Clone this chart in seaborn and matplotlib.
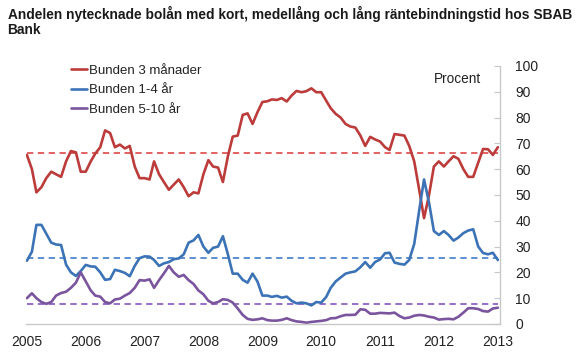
import numpy as np
import pandas as pd
import matplotlib
matplotlib.use("Agg")
import matplotlib.pyplot as plt
import matplotlib.dates as mdates
import seaborn as sns

TITLE = "Andelen nytecknade bolån med kort, medellång och lång räntebindningstid hos SBAB\nBank"
SERIES = ["Bunden 3 månader", "Bunden 1-4 år", "Bunden 5-10 år"]
COLORS = ["#BC3B3B", "#3C73B6", "#7A559E"]
AVG_COLORS = ["#E05656", "#4F86CC", "#8E63C4"]

# monthly, Jan 2005 - Jan 2013
bunden_3m = [65.5, 60, 51, 53, 56.5, 59, 58, 57, 63, 67, 66.5, 59,
             59, 63, 66, 68.5, 75, 74, 68.5, 69.5, 68, 69, 61, 56.5,
             56.5, 56, 63, 58, 55, 52, 54, 56, 53, 49.5, 51, 50.6,
             58, 63.5, 61, 60.6, 55, 65, 72.6, 73, 81, 81.6, 77.5, 82,
             86, 86.3, 87, 86.8, 87.5, 86.2, 88.5, 90.3, 89.8, 90.2, 91.3, 89.8,
             89.8, 86.5, 83.6, 81.4, 80, 77.5, 76.5, 76.1, 73, 69, 72.5, 71.5,
             70.7, 68.5, 67.4, 73.6, 73.3, 73, 69, 63, 52, 41, 50, 61,
             63, 61, 63, 65, 64, 60, 57, 57, 62.5, 67.8, 67.7, 65.5,
             68.5]
bunden_1_4 = [24.5, 28, 38.4, 38.4, 35, 31.5, 30.8, 30.6, 23, 20, 18.6, 20.5,
              22.9, 22.3, 22.2, 20, 17.1, 17.4, 21, 20.5, 19.8, 18.5, 22.5, 25.5,
              26.2, 26.1, 24.8, 22.5, 23.5, 24, 25.1, 25.4, 27, 31.5, 32.4, 34.5,
              30, 27.6, 29.5, 30, 34, 27, 19.5, 19.5, 17.1, 16, 19.5, 16.5,
              11, 11, 10.5, 10.9, 10.2, 10.6, 9, 8, 8.3, 8, 7.2, 8.5,
              8.3, 10.5, 14, 16.5, 18, 19.5, 20, 20.4, 22, 24, 21.8, 24,
              25, 27.4, 27.6, 23.8, 23.3, 23, 24.8, 31, 44, 56, 47, 36,
              34.5, 36, 34.5, 32.3, 33.5, 35.2, 36.2, 36.7, 30, 27.5, 27, 27.6,
              24.8]
bunden_5_10 = [10, 11.9, 10, 8.5, 7.8, 8.5, 11, 12, 12.5, 14, 16, 20,
               16.5, 13, 11, 10.6, 8.5, 8, 9.5, 9.8, 11, 12, 14, 17,
               16.8, 17.3, 14, 17, 19.6, 22.5, 20, 18.3, 19, 17, 15.5, 13,
               11.5, 9, 8, 8.5, 9.6, 9.3, 8.3, 6, 3.5, 2, 1.6, 1.8,
               2.2, 1.5, 1.3, 1.3, 1.6, 2.2, 1.5, 1, 0.8, 0.5, 0.8, 1,
               1.2, 1.5, 2.2, 2.3, 3, 3.5, 3.5, 3.6, 5.7, 5.5, 4, 4,
               4.3, 4.2, 4.1, 4.4, 3.1, 2.2, 2.5, 3.2, 3.5, 3.3, 2.8, 2.5,
               1.7, 1.9, 2, 1.8, 2.8, 4.4, 6.1, 6.1, 5.8, 5, 4.8, 6,
               6.3]
averages = [66.2, 25.6, 7.6]
yticks = [0, 10, 20, 30, 40, 50, 60, 70, 80, 90, 100]

dates = pd.date_range("2005-01-01", periods=len(bunden_3m), freq="MS")
df = pd.DataFrame({"date": dates, SERIES[0]: bunden_3m,
                   SERIES[1]: bunden_1_4, SERIES[2]: bunden_5_10})
long = df.melt(id_vars="date", var_name="serie", value_name="andel")

sns.set_style("white")
plt.rcParams["font.family"] = ["Liberation Sans", "DejaVu Sans"]

fig = plt.figure(figsize=(5.8, 3.62), dpi=100)
ax = fig.add_axes([0.045, 0.105, 0.817, 0.713])

for avg, c in zip(averages, AVG_COLORS):
    ax.hlines(avg, dates[0], dates[-1], colors=c, linestyles=(0, (3.5, 2.5)), lw=1.3)

sns.lineplot(data=long, x="date", y="andel", hue="serie", hue_order=SERIES,
             palette=COLORS, lw=1.9, ax=ax)

ax.set_ylim(0, 100)
ax.set_xlim(pd.Timestamp("2004-12-27"), pd.Timestamp("2013-01-14"))
ax.set_yticks(yticks)
ax.yaxis.tick_right()
ax.xaxis.set_major_locator(mdates.YearLocator())
ax.xaxis.set_major_formatter(mdates.DateFormatter("%Y"))
ax.set_xlabel(""); ax.set_ylabel("")
for s in ("top", "left"):
    ax.spines[s].set_visible(False)
for s in ("bottom", "right"):
    ax.spines[s].set_color("#C8C8C8")
    ax.spines[s].set_linewidth(1.0)
ax.tick_params(axis="both", direction="in", length=4, color="#C8C8C8",
               labelsize=10, labelcolor="#222222")
ax.tick_params(axis="y", pad=11)
ax.tick_params(axis="x", pad=8)

ax.text(0.96, 0.975, "Procent", transform=ax.transAxes, ha="right", va="top",
        fontsize=9.8, color="#222222")

leg = ax.legend(loc="upper left", bbox_to_anchor=(0.083, 1.025), frameon=False,
                fontsize=9.5, handlelength=1.25, handletextpad=0.1,
                labelspacing=0.55, borderaxespad=0)
for t in leg.get_texts():
    t.set_color("#222222")

fig.text(0.013, 0.985, TITLE, ha="left", va="top", fontsize=9.95,
         fontweight="bold", color="#1a1a1a", linespacing=1.1)

fig.savefig("out.png", dpi=100)
